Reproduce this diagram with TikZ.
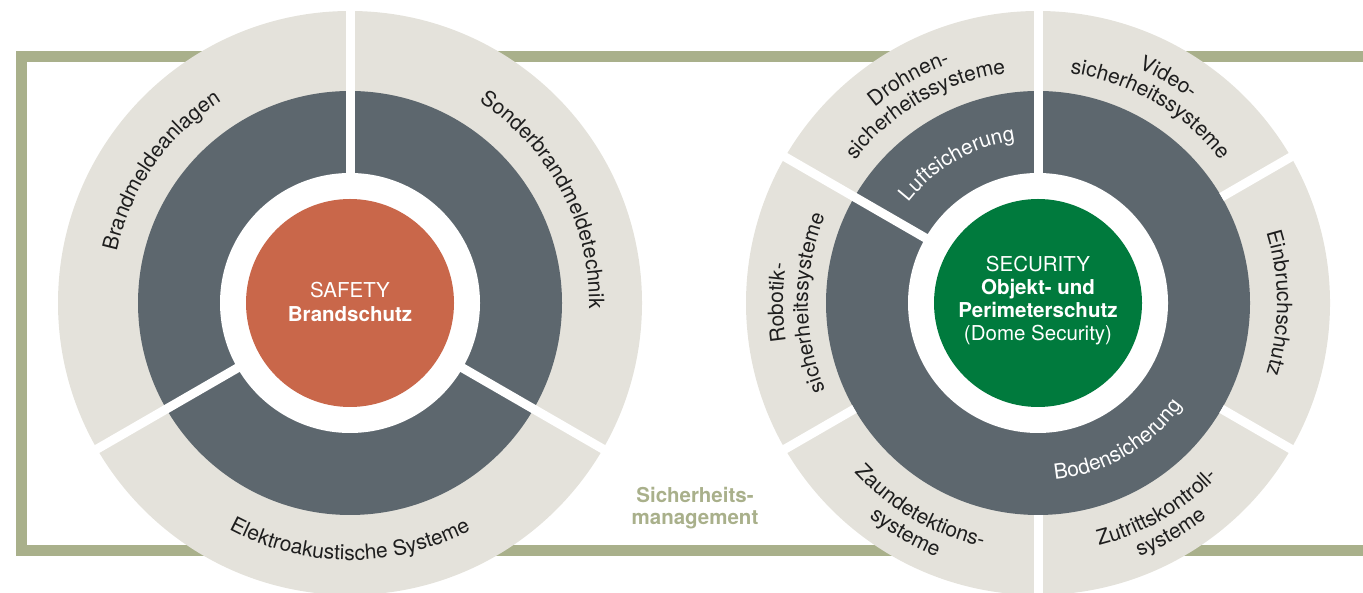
\documentclass[tikz,border=0pt]{standalone}
\usepackage{fontspec}
\setmainfont{TeX Gyre Heros}
\usetikzlibrary{decorations.text}
\definecolor{beige}{RGB}{228,226,219}
\definecolor{slate}{RGB}{93,103,110}
\definecolor{rust}{RGB}{201,103,74}
\definecolor{forest}{RGB}{0,122,61}
\definecolor{olive}{RGB}{169,176,139}
\definecolor{ink}{RGB}{30,30,30}
\newcommand\lbl{\fontsize{10.5}{12}\selectfont\color{ink}}
\newcommand\lblw{\fontsize{10.5}{12}\selectfont\color{white}}
% outward-facing label (reads clockwise): center, angle, radius, format, text
\newcommand\outlabel[5]{\path[decorate,decoration={text along path,text align=center,text={|#4|#5}}]
  ([shift={(#2+70:#3)}]#1) arc[start angle=#2+70,end angle=#2-70,radius=#3];}
% inward-facing label (reads counterclockwise)
\newcommand\inlabel[5]{\path[decorate,decoration={text along path,text align=center,text={|#4|#5}}]
  ([shift={(#2-70:#3)}]#1) arc[start angle=#2-70,end angle=#2+70,radius=#3];}
\tikzset{
  gapline/.style={white, line width=4.5pt},
  frameline/.style={olive, line width=5.5pt},
  centertext/.style={align=center, text=white},
}
\begin{document}
\begin{tikzpicture}[x=0.5pt,y=0.5pt]
\useasboundingbox (0,0) rectangle (1363,593);
\coordinate (L) at (350,290);
\coordinate (R) at (1038,290);
% frame
\draw[frameline] (21,536.5) rectangle (1368,42.5);
% left disc
\fill[beige] (L) circle[radius=292];
\fill[slate] (L) circle[radius=212];
\fill[white] (L) circle[radius=130];
\fill[rust] (L) circle[radius=104];
\foreach \a in {90,210,330}{
  \draw[gapline] ([shift={(\a:127)}]L) -- ([shift={(\a:296)}]L);
}
% right disc
\fill[beige] (R) circle[radius=292];
\fill[slate] (R) circle[radius=212];
\fill[white] (R) circle[radius=130];
\fill[forest] (R) circle[radius=104];
\foreach \a in {90,150}{
  \draw[gapline] ([shift={(\a:127)}]R) -- ([shift={(\a:296)}]R);
}
\foreach \a in {30,-30,210,270}{
  \draw[gapline] ([shift={(\a:212)}]R) -- ([shift={(\a:296)}]R);
}
% left labels
\outlabel{L}{145}{239}{\lbl}{Brandmeldeanlagen}
\outlabel{L}{28}{239}{\lbl}{Sonderbrandmeldetechnik}
\inlabel{L}{270}{257}{\lbl}{Elektroakustische Systeme}
% right labels
\outlabel{R}{120}{164}{\lblw}{Luftsicherung}
\inlabel{R}{-60}{177}{\lblw}{Bodensicherung}
\outlabel{R}{120}{255}{\lbl}{Drohnen-}
\outlabel{R}{120}{232}{\lbl}{sicherheitssysteme}
\outlabel{R}{60}{255}{\lbl}{Video-}
\outlabel{R}{60}{232}{\lbl}{sicherheitssysteme}
\outlabel{R}{0}{239}{\lbl}{Einbruchschutz}
\inlabel{R}{-60}{250}{\lbl}{Zutrittskontroll-}
\inlabel{R}{-60}{273}{\lbl}{systeme}
\inlabel{R}{240}{250}{\lbl}{Zaundetektions-}
\inlabel{R}{240}{273}{\lbl}{systeme}
\outlabel{R}{180}{255}{\lbl}{Robotik-}
\outlabel{R}{180}{230}{\lbl}{sicherheitssysteme}
% centre texts
\node[centertext, font=\fontsize{10.25}{12}\selectfont] (safety) at (350,291) {SAFETY\\\textbf{Brandschutz}};
\node[centertext, font=\fontsize{10.25}{11.5}\selectfont] (security) at (1038,292) {SECURITY\\\textbf{Objekt- und}\\\textbf{Perimeterschutz}\\(Dome Security)};
\node[align=center, text=olive, font=\bfseries\fontsize{10.25}{11}\selectfont] (mgmt) at (695,85) {Sicherheits-\\management};
\end{tikzpicture}
\end{document}
